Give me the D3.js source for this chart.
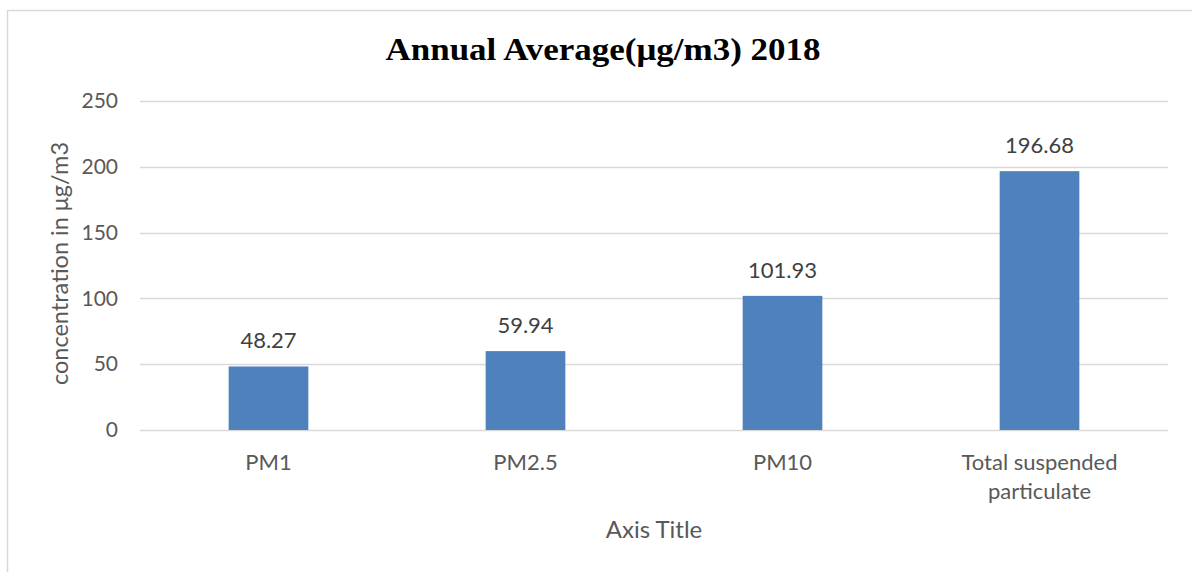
<!DOCTYPE html>
<html>
<head>
<meta charset="utf-8">
<script src="https://cdn.jsdelivr.net/npm/d3@7"></script>
<style>
  body { margin: 0; background: #fff; }
  text { font-family: Lato, "Open Sans", sans-serif; }
</style>
</head>
<body>
<svg id="chart" width="1192" height="572"></svg>
<script>
var categories = ["PM1", "PM2.5", "PM10", "Total suspended particulate"];
var values = [48.27, 59.94, 101.93, 196.68];
var yTicks = [0, 50, 100, 150, 200, 250];

var title = "Annual Average(μg/m3) 2018";
var yTitle = "concentration in μg/m3";
var xTitle = "Axis Title";

var svg = d3.select("#chart");
var margin = { left: 140, right: 24, top: 101, bottom: 142 };
var width = 1192 - margin.left - margin.right;
var height = 572 - margin.top - margin.bottom;

// chart area border (runs off the right and bottom of the picture)
svg.append("rect")
    .attr("x", 7.5).attr("y", 10.5)
    .attr("width", 1200).attr("height", 600)
    .attr("fill", "none")
    .attr("stroke", "#d9d9d9")
    .attr("stroke-width", 1.5);

var g = svg.append("g").attr("transform", "translate(" + margin.left + "," + margin.top + ")");

var x = d3.scaleBand().domain(categories).range([0, width]).paddingInner(0.69).paddingOuter(0.345);
var y = d3.scaleLinear().domain([0, 250]).range([height, 0]);

// gridlines
g.selectAll(".grid")
    .data(yTicks)
    .enter().append("line")
    .attr("x1", 0).attr("x2", width)
    .attr("y1", function(d) { return Math.round(y(d)) + 0.5; })
    .attr("y2", function(d) { return Math.round(y(d)) + 0.5; })
    .attr("stroke", "#d9d9d9")
    .attr("stroke-width", 1.3);

// y axis labels
var yAxis = d3.axisLeft(y).tickValues(yTicks).tickSize(0).tickPadding(22);
var ya = g.append("g").call(yAxis);
ya.select(".domain").remove();
ya.selectAll("text").attr("font-size", 21).attr("fill", "#595959").style("font-family", "Lato, sans-serif");

// bars
g.selectAll(".bar")
    .data(values)
    .enter().append("rect")
    .attr("x", function(d, i) { return x(categories[i]); })
    .attr("y", function(d) { return y(d); })
    .attr("width", x.bandwidth())
    .attr("height", function(d) { return height - y(d); })
    .attr("fill", "#4f81bd");

// value labels
g.selectAll(".val")
    .data(values)
    .enter().append("text")
    .attr("x", function(d, i) { return x(categories[i]) + x.bandwidth() / 2; })
    .attr("y", function(d) { return y(d) - 18; })
    .attr("text-anchor", "middle")
    .attr("font-size", 22)
    .attr("fill", "#404040")
    .text(function(d) { return d.toFixed(2); });

// x axis labels (wrapped)
var xLines = [["PM1"], ["PM2.5"], ["PM10"], ["Total suspended", "particulate"]];
var xl = g.selectAll(".xl")
    .data(categories)
    .enter().append("text")
    .attr("text-anchor", "middle")
    .attr("font-size", 22)
    .attr("fill", "#595959")
    .attr("transform", function(d) { return "translate(" + (x(d) + x.bandwidth() / 2) + "," + (height + 40) + ")"; });
xl.each(function(d, i) {
    d3.select(this).selectAll("tspan")
        .data(xLines[i])
        .enter().append("tspan")
        .attr("x", 0)
        .attr("dy", function(t, j) { return j === 0 ? 0 : 29; })
        .text(function(t) { return t; });
});

// axis titles
svg.append("text")
    .attr("x", margin.left + width / 2)
    .attr("y", 538)
    .attr("text-anchor", "middle")
    .attr("font-size", 24)
    .attr("fill", "#595959")
    .text(xTitle);

svg.append("text")
    .attr("transform", "translate(68," + (margin.top + height / 2 - 2) + ") rotate(-90)")
    .attr("text-anchor", "middle")
    .attr("font-size", 23.5)
    .attr("fill", "#595959")
    .text(yTitle);

// chart title, stretched to the width it has in the original
svg.append("text")
    .attr("x", 603)
    .attr("y", 60)
    .attr("text-anchor", "middle")
    .attr("font-size", 32)
    .attr("font-weight", "bold")
    .attr("fill", "#000")
    .attr("textLength", 435)
    .attr("lengthAdjust", "spacingAndGlyphs")
    .style("font-family", "'Liberation Serif', serif")
    .text(title);
</script>
</body>
</html>
